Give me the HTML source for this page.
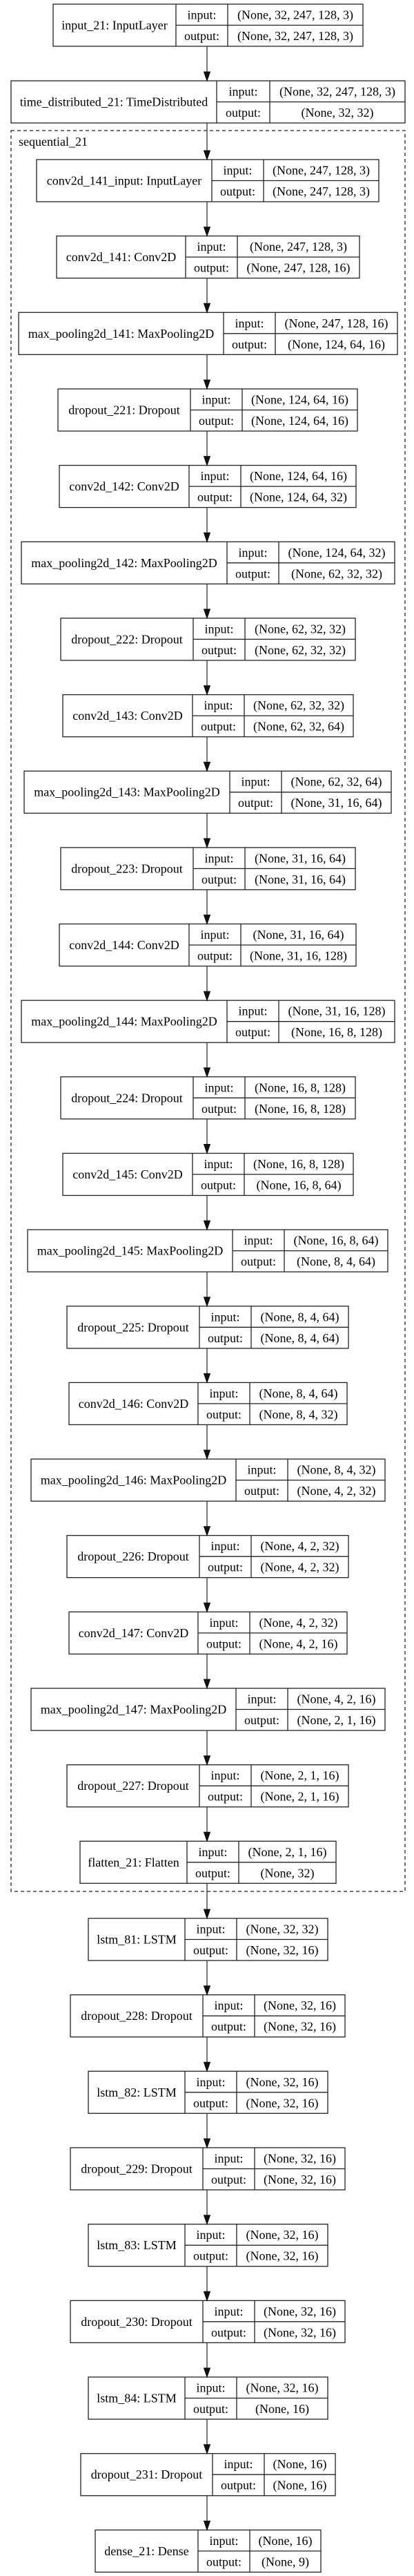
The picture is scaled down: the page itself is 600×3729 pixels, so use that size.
<!DOCTYPE html>
<html><head><meta charset="utf-8"><style>
html,body{margin:0;padding:0;background:#fff;}
svg{display:block;}
text{font-family:"Liberation Serif","Times New Roman",serif;font-size:18px;fill:#000;text-anchor:middle;}
rect,.l{fill:none;stroke:#222;stroke-width:1.3;}
.a{fill:none;stroke:#333;stroke-width:1.3;}
polygon{fill:#111;stroke:#111;stroke-width:1;}
</style></head><body>
<svg width="600" height="3729" viewBox="0 0 600 3729" xmlns="http://www.w3.org/2000/svg">
<rect x="0" y="0" width="600" height="3729" style="fill:#fff;stroke:none"/>
<rect x="16" y="189" width="571" height="2549" style="stroke-dasharray:5,4"/>
<text x="27" y="211" style="text-anchor:start">sequential_21</text>

<g transform="translate(0,6)"><rect x="77" y="0" width="449" height="61"/><path class="l" d="M255 0V61M330 0V61M255 30.5H526"/><text x="166" y="36.5">input_21: InputLayer</text><text x="292.5" y="21.5">input:</text><text x="292.5" y="52">output:</text><text x="428" y="21.5">(None, 32, 247, 128, 3)</text><text x="428" y="52">(None, 32, 247, 128, 3)</text></g>

<g transform="translate(0,117)"><rect x="16" y="0" width="571" height="61"/><path class="l" d="M314 0V61M391 0V61M314 30.5H587"/><text x="165" y="36.5">time_distributed_21: TimeDistributed</text><text x="352.5" y="21.5">input:</text><text x="352.5" y="52">output:</text><text x="489" y="21.5">(None, 32, 247, 128, 3)</text><text x="489" y="52">(None, 32, 32)</text></g>

<g transform="translate(0,231)"><rect x="53" y="0" width="496" height="61"/><path class="l" d="M307 0V61M382 0V61M307 30.5H549"/><text x="180" y="36.5">conv2d_141_input: InputLayer</text><text x="344.5" y="21.5">input:</text><text x="344.5" y="52">output:</text><text x="465.5" y="21.5">(None, 247, 128, 3)</text><text x="465.5" y="52">(None, 247, 128, 3)</text></g>

<g transform="translate(0,341.6)"><rect x="82" y="0" width="439" height="61"/><path class="l" d="M269 0V61M344 0V61M269 30.5H521"/><text x="175.5" y="36.5">conv2d_141: Conv2D</text><text x="306.5" y="21.5">input:</text><text x="306.5" y="52">output:</text><text x="432.5" y="21.5">(None, 247, 128, 3)</text><text x="432.5" y="52">(None, 247, 128, 16)</text></g>

<g transform="translate(0,452.3)"><rect x="27" y="0" width="549" height="61"/><path class="l" d="M324 0V61M399 0V61M324 30.5H576"/><text x="175.5" y="36.5">max_pooling2d_141: MaxPooling2D</text><text x="361.5" y="21.5">input:</text><text x="361.5" y="52">output:</text><text x="487.5" y="21.5">(None, 247, 128, 16)</text><text x="487.5" y="52">(None, 124, 64, 16)</text></g>

<g transform="translate(0,563)"><rect x="84" y="0" width="434" height="61"/><path class="l" d="M276 0V61M351 0V61M276 30.5H518"/><text x="180" y="36.5">dropout_221: Dropout</text><text x="313.5" y="21.5">input:</text><text x="313.5" y="52">output:</text><text x="434.5" y="21.5">(None, 124, 64, 16)</text><text x="434.5" y="52">(None, 124, 64, 16)</text></g>

<g transform="translate(0,673.6)"><rect x="86" y="0" width="430" height="61"/><path class="l" d="M274 0V61M349 0V61M274 30.5H516"/><text x="180" y="36.5">conv2d_142: Conv2D</text><text x="311.5" y="21.5">input:</text><text x="311.5" y="52">output:</text><text x="432.5" y="21.5">(None, 124, 64, 16)</text><text x="432.5" y="52">(None, 124, 64, 32)</text></g>

<g transform="translate(0,784.3)"><rect x="31" y="0" width="541" height="61"/><path class="l" d="M329 0V61M404 0V61M329 30.5H572"/><text x="180" y="36.5">max_pooling2d_142: MaxPooling2D</text><text x="366.5" y="21.5">input:</text><text x="366.5" y="52">output:</text><text x="488" y="21.5">(None, 124, 64, 32)</text><text x="488" y="52">(None, 62, 32, 32)</text></g>

<g transform="translate(0,894.9)"><rect x="88" y="0" width="427" height="61"/><path class="l" d="M280 0V61M355 0V61M280 30.5H515"/><text x="184" y="36.5">dropout_222: Dropout</text><text x="317.5" y="21.5">input:</text><text x="317.5" y="52">output:</text><text x="435" y="21.5">(None, 62, 32, 32)</text><text x="435" y="52">(None, 62, 32, 32)</text></g>

<g transform="translate(0,1005.6)"><rect x="91" y="0" width="421" height="61"/><path class="l" d="M279 0V61M354 0V61M279 30.5H512"/><text x="185" y="36.5">conv2d_143: Conv2D</text><text x="316.5" y="21.5">input:</text><text x="316.5" y="52">output:</text><text x="433" y="21.5">(None, 62, 32, 32)</text><text x="433" y="52">(None, 62, 32, 64)</text></g>

<g transform="translate(0,1116.2)"><rect x="35" y="0" width="532" height="61"/><path class="l" d="M333 0V61M408 0V61M333 30.5H567"/><text x="184" y="36.5">max_pooling2d_143: MaxPooling2D</text><text x="370.5" y="21.5">input:</text><text x="370.5" y="52">output:</text><text x="487.5" y="21.5">(None, 62, 32, 64)</text><text x="487.5" y="52">(None, 31, 16, 64)</text></g>

<g transform="translate(0,1226.9)"><rect x="88" y="0" width="427" height="61"/><path class="l" d="M280 0V61M355 0V61M280 30.5H515"/><text x="184" y="36.5">dropout_223: Dropout</text><text x="317.5" y="21.5">input:</text><text x="317.5" y="52">output:</text><text x="435" y="21.5">(None, 31, 16, 64)</text><text x="435" y="52">(None, 31, 16, 64)</text></g>

<g transform="translate(0,1337.5)"><rect x="86" y="0" width="430" height="61"/><path class="l" d="M274 0V61M349 0V61M274 30.5H516"/><text x="180" y="36.5">conv2d_144: Conv2D</text><text x="311.5" y="21.5">input:</text><text x="311.5" y="52">output:</text><text x="432.5" y="21.5">(None, 31, 16, 64)</text><text x="432.5" y="52">(None, 31, 16, 128)</text></g>

<g transform="translate(0,1448.2)"><rect x="31" y="0" width="541" height="61"/><path class="l" d="M329 0V61M404 0V61M329 30.5H572"/><text x="180" y="36.5">max_pooling2d_144: MaxPooling2D</text><text x="366.5" y="21.5">input:</text><text x="366.5" y="52">output:</text><text x="488" y="21.5">(None, 31, 16, 128)</text><text x="488" y="52">(None, 16, 8, 128)</text></g>

<g transform="translate(0,1558.8)"><rect x="88" y="0" width="427" height="61"/><path class="l" d="M280 0V61M355 0V61M280 30.5H515"/><text x="184" y="36.5">dropout_224: Dropout</text><text x="317.5" y="21.5">input:</text><text x="317.5" y="52">output:</text><text x="435" y="21.5">(None, 16, 8, 128)</text><text x="435" y="52">(None, 16, 8, 128)</text></g>

<g transform="translate(0,1669.5)"><rect x="91" y="0" width="421" height="61"/><path class="l" d="M279 0V61M354 0V61M279 30.5H512"/><text x="185" y="36.5">conv2d_145: Conv2D</text><text x="316.5" y="21.5">input:</text><text x="316.5" y="52">output:</text><text x="433" y="21.5">(None, 16, 8, 128)</text><text x="433" y="52">(None, 16, 8, 64)</text></g>

<g transform="translate(0,1780.1)"><rect x="40" y="0" width="522" height="61"/><path class="l" d="M337 0V61M412 0V61M337 30.5H562"/><text x="188.5" y="36.5">max_pooling2d_145: MaxPooling2D</text><text x="374.5" y="21.5">input:</text><text x="374.5" y="52">output:</text><text x="487" y="21.5">(None, 16, 8, 64)</text><text x="487" y="52">(None, 8, 4, 64)</text></g>

<g transform="translate(0,1890.8)"><rect x="97" y="0" width="408" height="61"/><path class="l" d="M289 0V61M364 0V61M289 30.5H505"/><text x="193" y="36.5">dropout_225: Dropout</text><text x="326.5" y="21.5">input:</text><text x="326.5" y="52">output:</text><text x="434.5" y="21.5">(None, 8, 4, 64)</text><text x="434.5" y="52">(None, 8, 4, 64)</text></g>

<g transform="translate(0,2001.4)"><rect x="100" y="0" width="403" height="61"/><path class="l" d="M287 0V61M362 0V61M287 30.5H503"/><text x="193.5" y="36.5">conv2d_146: Conv2D</text><text x="324.5" y="21.5">input:</text><text x="324.5" y="52">output:</text><text x="432.5" y="21.5">(None, 8, 4, 64)</text><text x="432.5" y="52">(None, 8, 4, 32)</text></g>

<g transform="translate(0,2112.1)"><rect x="45" y="0" width="513" height="61"/><path class="l" d="M342 0V61M417 0V61M342 30.5H558"/><text x="193.5" y="36.5">max_pooling2d_146: MaxPooling2D</text><text x="379.5" y="21.5">input:</text><text x="379.5" y="52">output:</text><text x="487.5" y="21.5">(None, 8, 4, 32)</text><text x="487.5" y="52">(None, 4, 2, 32)</text></g>

<g transform="translate(0,2222.7)"><rect x="97" y="0" width="408" height="61"/><path class="l" d="M289 0V61M364 0V61M289 30.5H505"/><text x="193" y="36.5">dropout_226: Dropout</text><text x="326.5" y="21.5">input:</text><text x="326.5" y="52">output:</text><text x="434.5" y="21.5">(None, 4, 2, 32)</text><text x="434.5" y="52">(None, 4, 2, 32)</text></g>

<g transform="translate(0,2333.4)"><rect x="100" y="0" width="403" height="61"/><path class="l" d="M287 0V61M362 0V61M287 30.5H503"/><text x="193.5" y="36.5">conv2d_147: Conv2D</text><text x="324.5" y="21.5">input:</text><text x="324.5" y="52">output:</text><text x="432.5" y="21.5">(None, 4, 2, 32)</text><text x="432.5" y="52">(None, 4, 2, 16)</text></g>

<g transform="translate(0,2444)"><rect x="45" y="0" width="513" height="61"/><path class="l" d="M342 0V61M417 0V61M342 30.5H558"/><text x="193.5" y="36.5">max_pooling2d_147: MaxPooling2D</text><text x="379.5" y="21.5">input:</text><text x="379.5" y="52">output:</text><text x="487.5" y="21.5">(None, 4, 2, 16)</text><text x="487.5" y="52">(None, 2, 1, 16)</text></g>

<g transform="translate(0,2554.7)"><rect x="97" y="0" width="408" height="61"/><path class="l" d="M289 0V61M364 0V61M289 30.5H505"/><text x="193" y="36.5">dropout_227: Dropout</text><text x="326.5" y="21.5">input:</text><text x="326.5" y="52">output:</text><text x="434.5" y="21.5">(None, 2, 1, 16)</text><text x="434.5" y="52">(None, 2, 1, 16)</text></g>

<g transform="translate(0,2665.3)"><rect x="116" y="0" width="371" height="61"/><path class="l" d="M271 0V61M346 0V61M271 30.5H487"/><text x="193.5" y="36.5">flatten_21: Flatten</text><text x="308.5" y="21.5">input:</text><text x="308.5" y="52">output:</text><text x="416.5" y="21.5">(None, 2, 1, 16)</text><text x="416.5" y="52">(None, 32)</text></g>

<g transform="translate(0,2777)"><rect x="128" y="0" width="347" height="61"/><path class="l" d="M268 0V61M343 0V61M268 30.5H475"/><text x="198" y="36.5">lstm_81: LSTM</text><text x="305.5" y="21.5">input:</text><text x="305.5" y="52">output:</text><text x="409" y="21.5">(None, 32, 32)</text><text x="409" y="52">(None, 32, 16)</text></g>

<g transform="translate(0,2887.7)"><rect x="102" y="0" width="398" height="61"/><path class="l" d="M294 0V61M369 0V61M294 30.5H500"/><text x="198" y="36.5">dropout_228: Dropout</text><text x="331.5" y="21.5">input:</text><text x="331.5" y="52">output:</text><text x="434.5" y="21.5">(None, 32, 16)</text><text x="434.5" y="52">(None, 32, 16)</text></g>

<g transform="translate(0,2998.3)"><rect x="128" y="0" width="347" height="61"/><path class="l" d="M268 0V61M343 0V61M268 30.5H475"/><text x="198" y="36.5">lstm_82: LSTM</text><text x="305.5" y="21.5">input:</text><text x="305.5" y="52">output:</text><text x="409" y="21.5">(None, 32, 16)</text><text x="409" y="52">(None, 32, 16)</text></g>

<g transform="translate(0,3109)"><rect x="102" y="0" width="398" height="61"/><path class="l" d="M294 0V61M369 0V61M294 30.5H500"/><text x="198" y="36.5">dropout_229: Dropout</text><text x="331.5" y="21.5">input:</text><text x="331.5" y="52">output:</text><text x="434.5" y="21.5">(None, 32, 16)</text><text x="434.5" y="52">(None, 32, 16)</text></g>

<g transform="translate(0,3219.7)"><rect x="128" y="0" width="347" height="61"/><path class="l" d="M268 0V61M343 0V61M268 30.5H475"/><text x="198" y="36.5">lstm_83: LSTM</text><text x="305.5" y="21.5">input:</text><text x="305.5" y="52">output:</text><text x="409" y="21.5">(None, 32, 16)</text><text x="409" y="52">(None, 32, 16)</text></g>

<g transform="translate(0,3330.3)"><rect x="102" y="0" width="398" height="61"/><path class="l" d="M294 0V61M369 0V61M294 30.5H500"/><text x="198" y="36.5">dropout_230: Dropout</text><text x="331.5" y="21.5">input:</text><text x="331.5" y="52">output:</text><text x="434.5" y="21.5">(None, 32, 16)</text><text x="434.5" y="52">(None, 32, 16)</text></g>

<g transform="translate(0,3441)"><rect x="128" y="0" width="347" height="61"/><path class="l" d="M268 0V61M343 0V61M268 30.5H475"/><text x="198" y="36.5">lstm_84: LSTM</text><text x="305.5" y="21.5">input:</text><text x="305.5" y="52">output:</text><text x="409" y="21.5">(None, 32, 16)</text><text x="409" y="52">(None, 16)</text></g>

<g transform="translate(0,3551.7)"><rect x="117" y="0" width="369" height="61"/><path class="l" d="M308 0V61M383 0V61M308 30.5H486"/><text x="212.5" y="36.5">dropout_231: Dropout</text><text x="345.5" y="21.5">input:</text><text x="345.5" y="52">output:</text><text x="434.5" y="21.5">(None, 16)</text><text x="434.5" y="52">(None, 16)</text></g>

<g transform="translate(0,3662.4)"><rect x="138" y="0" width="327" height="61"/><path class="l" d="M287 0V61M362 0V61M287 30.5H465"/><text x="212.5" y="36.5">dense_21: Dense</text><text x="324.5" y="21.5">input:</text><text x="324.5" y="52">output:</text><text x="413.5" y="21.5">(None, 16)</text><text x="413.5" y="52">(None, 9)</text></g>

<!-- arrows -->
<path class="a" d="M300 67V105M300 178V219M300 292V329.6M300 402.6V440.3M300 513.3V551M300 624V661.6M300 734.6V772.3M300 845.3V882.9M300 955.9V993.6M300 1066.6V1104.2M300 1177.2V1214.9M300 1287.9V1325.5M300 1398.5V1436.2M300 1509.2V1546.8M300 1619.8V1657.5M300 1730.5V1768.1M300 1841.1V1878.8M300 1951.8V1989.4M300 2062.4V2100.1M300 2173.1V2210.7M300 2283.7V2321.4M300 2394.4V2432M300 2505V2542.7M300 2615.7V2653.3M300 2726.3V2765M300 2838V2875.7M300 2948.7V2986.3M300 3059.3V3097M300 3170V3207.7M300 3280.7V3318.3M300 3391.3V3429M300 3502V3539.7M300 3612.7V3650.4"/>
<polygon points="295.5,104 304.5,104 300,117"/>
<polygon points="295.5,218 304.5,218 300,231"/>
<polygon points="295.5,328.6 304.5,328.6 300,341.6"/>
<polygon points="295.5,439.3 304.5,439.3 300,452.3"/>
<polygon points="295.5,550 304.5,550 300,563"/>
<polygon points="295.5,660.6 304.5,660.6 300,673.6"/>
<polygon points="295.5,771.3 304.5,771.3 300,784.3"/>
<polygon points="295.5,881.9 304.5,881.9 300,894.9"/>
<polygon points="295.5,992.6 304.5,992.6 300,1005.6"/>
<polygon points="295.5,1103.2 304.5,1103.2 300,1116.2"/>
<polygon points="295.5,1213.9 304.5,1213.9 300,1226.9"/>
<polygon points="295.5,1324.5 304.5,1324.5 300,1337.5"/>
<polygon points="295.5,1435.2 304.5,1435.2 300,1448.2"/>
<polygon points="295.5,1545.8 304.5,1545.8 300,1558.8"/>
<polygon points="295.5,1656.5 304.5,1656.5 300,1669.5"/>
<polygon points="295.5,1767.1 304.5,1767.1 300,1780.1"/>
<polygon points="295.5,1877.8 304.5,1877.8 300,1890.8"/>
<polygon points="295.5,1988.4 304.5,1988.4 300,2001.4"/>
<polygon points="295.5,2099.1 304.5,2099.1 300,2112.1"/>
<polygon points="295.5,2209.7 304.5,2209.7 300,2222.7"/>
<polygon points="295.5,2320.4 304.5,2320.4 300,2333.4"/>
<polygon points="295.5,2431 304.5,2431 300,2444"/>
<polygon points="295.5,2541.7 304.5,2541.7 300,2554.7"/>
<polygon points="295.5,2652.3 304.5,2652.3 300,2665.3"/>
<polygon points="295.5,2764 304.5,2764 300,2777"/>
<polygon points="295.5,2874.7 304.5,2874.7 300,2887.7"/>
<polygon points="295.5,2985.3 304.5,2985.3 300,2998.3"/>
<polygon points="295.5,3096 304.5,3096 300,3109"/>
<polygon points="295.5,3206.7 304.5,3206.7 300,3219.7"/>
<polygon points="295.5,3317.3 304.5,3317.3 300,3330.3"/>
<polygon points="295.5,3428 304.5,3428 300,3441"/>
<polygon points="295.5,3538.7 304.5,3538.7 300,3551.7"/>
<polygon points="295.5,3649.4 304.5,3649.4 300,3662.4"/>
</svg>
</body></html>
